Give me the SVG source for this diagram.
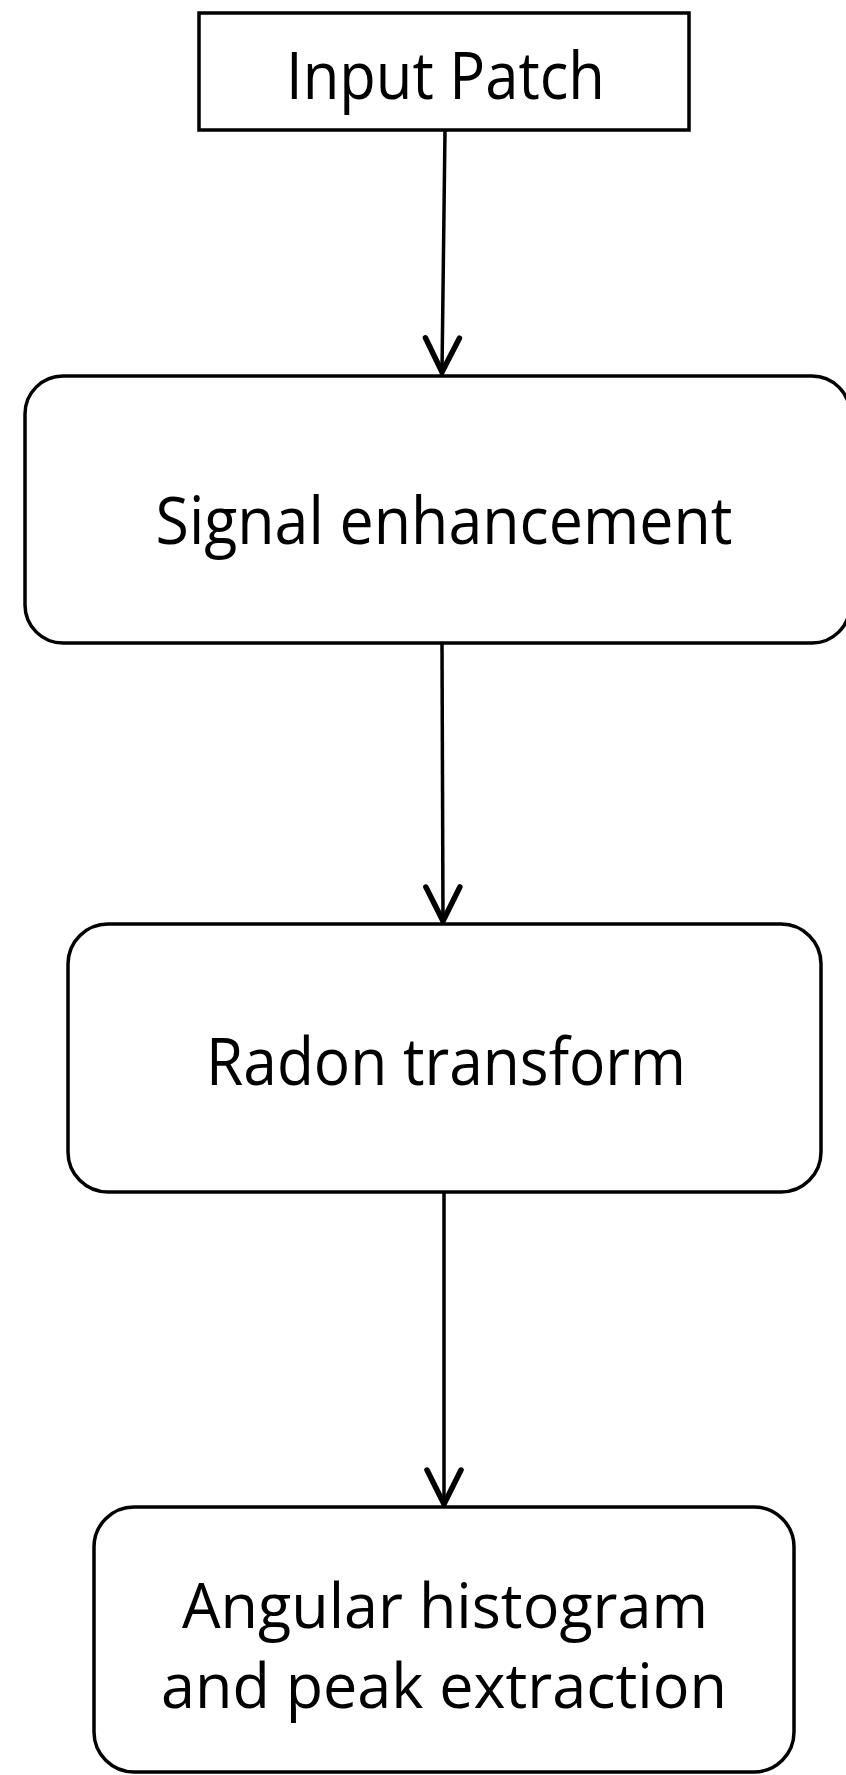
<svg xmlns="http://www.w3.org/2000/svg" width="846" height="1775" viewBox="0 0 846 1775">
<style>
.box{fill:#fff;stroke:#000;stroke-width:3.5}
.lbl{font-family:"Open Sans",Lato,"Liberation Sans",sans-serif;font-size:66px;fill:#000;text-anchor:middle;font-variant-ligatures:none}
.lbl2{font-size:63px}
.conn{fill:none;stroke:#000;stroke-width:3.5}
.head{fill:none;stroke:#000;stroke-width:5.5;stroke-linejoin:miter;stroke-linecap:round}
</style>
<defs>
<marker id="arr" markerUnits="userSpaceOnUse" viewBox="-40 -25 45 50" markerWidth="45" markerHeight="50" refX="0" refY="0" orient="auto" overflow="visible">
<path class="head" d="M -34 -17 L 0 0 L -34 17"/>
</marker>
</defs>
<rect width="846" height="1775" fill="#fff"/>
<g id="connectors">
<line class="conn" x1="445" y1="130" x2="442" y2="372" marker-end="url(#arr)"/>
<line class="conn" x1="442" y1="643" x2="443" y2="921" marker-end="url(#arr)"/>
<line class="conn" x1="444" y1="1191" x2="444" y2="1504" marker-end="url(#arr)"/>
</g>
<g id="input-patch">
<rect class="box" x="199" y="13" width="490" height="117"/>
<text class="lbl" x="445.5" y="99" textLength="319" lengthAdjust="spacingAndGlyphs">Input Patch</text>
</g>
<g id="signal-enhancement">
<rect class="box" x="25" y="376" width="825" height="267" rx="38" ry="38"/>
<text class="lbl" x="444" y="544" textLength="577" lengthAdjust="spacingAndGlyphs">Signal enhancement</text>
</g>
<g id="radon-transform">
<rect class="box" x="68" y="924" width="753" height="268" rx="40" ry="40"/>
<text class="lbl" x="446" y="1085" textLength="480" lengthAdjust="spacingAndGlyphs">Radon transform</text>
</g>
<g id="angular-histogram">
<rect class="box" x="94" y="1507" width="700" height="265" rx="40" ry="40"/>
<text class="lbl lbl2" x="445" y="1628" textLength="526" lengthAdjust="spacingAndGlyphs">Angular histogram</text>
<text class="lbl lbl2" x="444" y="1708" textLength="566" lengthAdjust="spacingAndGlyphs">and peak extraction</text>
</g>
</svg>
